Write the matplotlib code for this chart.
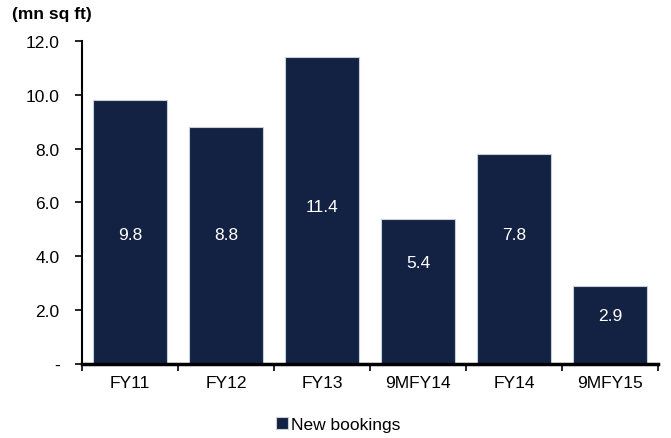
import matplotlib.pyplot as plt
import numpy as np

plt.rcParams['font.family'] = ['Liberation Sans', 'DejaVu Sans']

categories = ['FY11', 'FY12', 'FY13', '9MFY14', 'FY14', '9MFY15']
bookings = [9.8, 8.8, 11.4, 5.4, 7.8, 2.9]
label_text = ['9.8', '8.8', '11.4', '5.4', '7.8', '2.9']

navy = '#132143'
fs = 12.5

fig = plt.figure(figsize=(6.71, 4.39), dpi=100)
ax = fig.add_axes([0.122, 0.169, 0.859, 0.735])

x = np.arange(len(categories))
bars = ax.bar(x, bookings, width=0.77, color=navy, edgecolor='#c8cdd8',
              linewidth=0.8, label='New bookings')

# value labels sit inside the bars, roughly mid-height
label_y = [4.8, 4.8, 5.85, 3.75, 4.8, 1.8]
for xi, ly, txt in zip(x, label_y, label_text):
    ax.text(xi, ly, txt, color='white', ha='center', va='center', fontsize=fs)

ax.set_xlim(-0.5, len(categories) - 0.5)
ax.set_ylim(0, 12)
ax.set_yticks(np.arange(0, 13, 2))
ax.set_yticklabels(['-'] + [f'{v:.1f}' for v in np.arange(2, 13, 2)])
ax.set_xticks(x)
ax.set_xticklabels(categories)
ax.set_xticks(np.arange(-0.5, len(categories)), minor=True)
ax.tick_params(axis='x', which='major', length=0, pad=8, labelsize=fs)
ax.tick_params(axis='x', which='minor', length=5, width=1.2, direction='out')
ax.tick_params(axis='y', length=5, width=1.2, direction='out', pad=11, labelsize=fs)

for side in ['top', 'right']:
    ax.spines[side].set_visible(False)
ax.spines['left'].set_linewidth(1.5)
ax.spines['bottom'].set_linewidth(2.5)

fig.text(0.018, 0.967, '(mn sq ft)', fontweight='bold', fontsize=fs,
         ha='left', va='center')

ax.legend(loc='upper center', bbox_to_anchor=(0.445, -0.115), frameon=False,
          fontsize=fs, handlelength=0.7, handleheight=0.7, handletextpad=0.2)

fig.savefig('out.png', dpi=100)
